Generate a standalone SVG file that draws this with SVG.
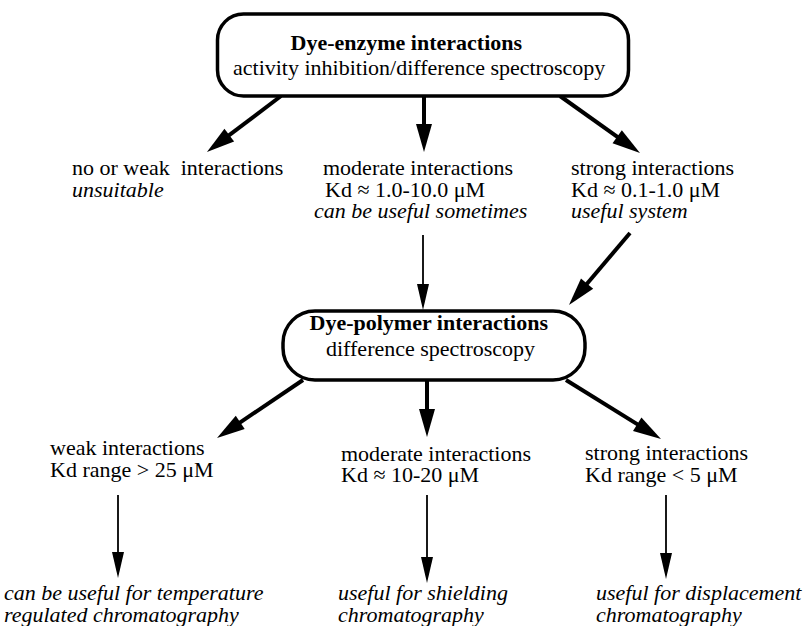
<svg xmlns="http://www.w3.org/2000/svg" width="806" height="626" viewBox="0 0 806 626">
<style>
text{font-family:"Liberation Serif","Times New Roman",serif;font-size:22px;fill:#000}
.b{font-weight:bold}
.i{font-style:italic}
.box{fill:#fff;stroke:#000;stroke-width:3.5}
.thick{stroke:#000;stroke-width:4;fill:none;marker-end:url(#hk)}
.thin{stroke:#000;stroke-width:1.8;fill:none;marker-end:url(#hn)}
</style>
<defs>
<marker id="hk" markerUnits="userSpaceOnUse" markerWidth="30" markerHeight="16" refX="8" refY="8" orient="auto" overflow="visible"><path d="M0,0 L28,8 L0,16 z" fill="#000"/></marker>
<marker id="hn" markerUnits="userSpaceOnUse" markerWidth="28" markerHeight="14" refX="6" refY="6" orient="auto" overflow="visible"><path d="M0,0 L26,6 L0,12 z" fill="#000"/></marker>
</defs>
<rect width="806" height="626" fill="#fff"/>
<g id="connectors">
<line class="thick" x1="281" y1="96" x2="222.9" y2="139.9"/>
<line class="thick" x1="424" y1="96" x2="424" y2="132"/>
<line class="thick" x1="560" y1="96" x2="623.7" y2="141.4"/>
<line class="thin" x1="423" y1="235" x2="423" y2="290"/>
<line class="thick" x1="630" y1="233" x2="581.9" y2="289.7"/>
<line class="thick" x1="303" y1="380" x2="233.6" y2="426.8"/>
<line class="thick" x1="427" y1="380" x2="427" y2="417"/>
<line class="thick" x1="566" y1="380" x2="644" y2="428.4"/>
<line class="thin" x1="118" y1="495" x2="118" y2="558"/>
<line class="thin" x1="427" y1="495" x2="427" y2="563"/>
<line class="thin" x1="666" y1="495" x2="666" y2="559"/>
</g>
<g id="dye-enzyme">
<rect class="box" x="217.5" y="14" width="411" height="82" rx="26"/>
<text class="b" x="290.5" y="50">Dye-enzyme interactions</text>
<text x="233" y="75">activity inhibition/difference spectroscopy</text>
</g>
<g id="no-weak">
<text x="72" y="175" xml:space="preserve">no or weak  interactions</text>
<text class="i" x="72" y="197">unsuitable</text>
</g>
<g id="moderate-enzyme">
<text x="323" y="175">moderate interactions</text>
<text x="325" y="197">Kd ≈ 1.0-10.0 μM</text>
<text class="i" x="314" y="218">can be useful sometimes</text>
</g>
<g id="strong-enzyme">
<text x="571" y="175">strong interactions</text>
<text x="571" y="197">Kd ≈ 0.1-1.0 μM</text>
<text class="i" x="571" y="218">useful system</text>
</g>
<g id="dye-polymer">
<rect class="box" x="283" y="311" width="302" height="69" rx="32"/>
<text class="b" x="309.5" y="330">Dye-polymer interactions</text>
<text x="326" y="355.5">difference spectroscopy</text>
</g>
<g id="weak-polymer">
<text x="50" y="455">weak interactions</text>
<text x="50" y="477">Kd range &gt; 25 μM</text>
</g>
<g id="moderate-polymer">
<text x="341" y="461">moderate interactions</text>
<text x="341" y="482">Kd ≈ 10-20 μM</text>
</g>
<g id="strong-polymer">
<text x="585" y="460">strong interactions</text>
<text x="585" y="482">Kd range &lt; 5 μM</text>
</g>
<g id="temperature">
<text class="i" x="4" y="600">can be useful for temperature</text>
<text class="i" x="4" y="622">regulated chromatography</text>
</g>
<g id="shielding">
<text class="i" x="338" y="600">useful for shielding</text>
<text class="i" x="338" y="622">chromatography</text>
</g>
<g id="displacement">
<text class="i" x="596" y="600">useful for displacement</text>
<text class="i" x="596" y="622">chromatography</text>
</g>
</svg>
